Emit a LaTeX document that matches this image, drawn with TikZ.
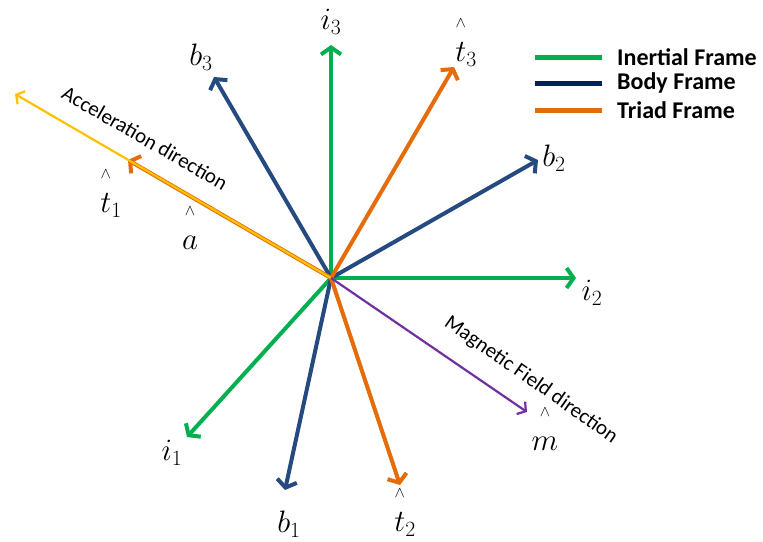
\documentclass[tikz,border=0pt]{standalone}
\usepackage{fix-cm}
\usepackage{amsmath}
\usepackage{fontspec}
\setsansfont{Carlito}
\usetikzlibrary{arrows.meta}
\definecolor{inertialgreen}{RGB}{0,176,80}
\definecolor{bodyblue}{RGB}{36,74,128}
\definecolor{legendblue}{RGB}{0,32,96}
\definecolor{triadorange}{RGB}{228,108,10}
\definecolor{accelyellow}{RGB}{255,192,0}
\definecolor{magpurple}{RGB}{112,48,160}
\newcommand\uvec[1]{\overset{\scriptscriptstyle\wedge}{\rule{0pt}{0.95em}#1}}

\begin{document}
\begin{tikzpicture}[x={(1pt,0)},y={(0,-1pt)},
  frame/.style={line width=4pt,-{Straight Barb[length=7pt,width=20pt]}},
  dirn/.style={line width=2.2pt,-{Straight Barb[length=6pt,width=15pt]}},
  lbl/.style={font=\fontsize{31}{33}\selectfont,inner sep=0pt},
  dirtext/.style={font=\sffamily\fontsize{21}{23}\selectfont,inner sep=0pt},
  legline/.style={line width=5pt},
  legtext/.style={font=\sffamily\bfseries\fontsize{24}{26}\selectfont,anchor=west,inner sep=0pt}]
\useasboundingbox (0,0) rectangle (763,541);
\coordinate (O) at (331,278);
% arrow tips
\coordinate (i1tip) at (187,437);
\coordinate (i2tip) at (576,278);
\coordinate (i3tip) at (331,45);
\coordinate (b1tip) at (285,490);
\coordinate (b2tip) at (538,160);
\coordinate (b3tip) at (214,77);
\coordinate (t1tip) at (128,160);
\coordinate (t2tip) at (400,485);
\coordinate (t3tip) at (454,67);
\coordinate (atip) at (15,94);
\coordinate (mtip) at (527,412);
% labels
\node[lbl] at(172,453)(i1){$i_1$};
\node[lbl] at(592,293)(i2){$i_2$};
\node[lbl] at(331,22) (i3){$i_3$};
\node[lbl] at(289,524)(b1){$b_1$};
\node[lbl] at(554,158)(b2){$b_2$};
\node[lbl] at(201,57) (b3){$b_3$};
\node[lbl] at(111,192)(t1){$\uvec{t}_1$};
\node[lbl] at(405,511)(t2){$\uvec{t}_2$};
\node[lbl] at(466,41) (t3){$\uvec{t}_3$};
\node[lbl] at(190,227)(a){$\uvec{a}$};
\node[lbl] at(545,428)(m){$\uvec{m}$};
\node[dirtext,rotate=-30] at(145,138)(acc){Acceleration direction};
\node[dirtext,rotate=-35] at(531,380)(mag){Magnetic Field direction};
% frames
\draw[frame,inertialgreen](O)--(i1tip);
\draw[frame,inertialgreen](O)--(i2tip);
\draw[frame,inertialgreen](O)--(i3tip);
\draw[frame,bodyblue](O)--(b1tip);
\draw[frame,bodyblue](O)--(b2tip);
\draw[frame,bodyblue](O)--(b3tip);
\draw[frame,triadorange](O)--(t1tip);
\draw[frame,triadorange](O)--(t2tip);
\draw[frame,triadorange](O)--(t3tip);
\draw[dirn,accelyellow](O)--(atip);
\draw[dirn,magpurple](O)--(mtip);
% legend
\coordinate (g1) at (535,57);  \coordinate (g2) at (602,57);
\coordinate (n1) at (535,83);  \coordinate (n2) at (602,83);
\coordinate (r1) at (535,110); \coordinate (r2) at (602,110);
\draw[legline,inertialgreen](g1)--(g2);
\draw[legline,legendblue](n1)--(n2);
\draw[legline,triadorange](r1)--(r2);
\node[legtext] at(617,57) (ginert){Inertial Frame};
\node[legtext] at(617,83) (gbody){Body Frame};
\node[legtext] at(617,110)(gtriad){Triad Frame};
\end{tikzpicture}
\end{document}
